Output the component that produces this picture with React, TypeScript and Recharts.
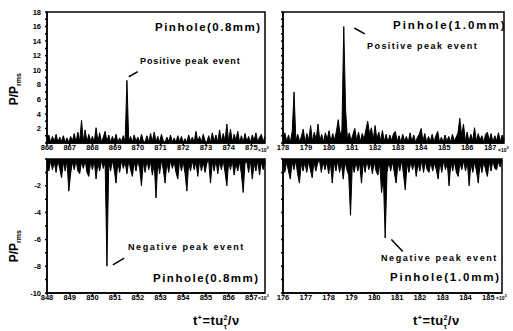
import { AreaChart, Area, XAxis, YAxis, ReferenceLine, ReferenceArea } from "recharts";

const STEP = 0.08;

// P/Prms, sampled every STEP in t+ (x10^3)
const topLeftT0 = 866;
const topLeftVals = [
  0.6, 1.1, 0.1, 0.9, 0.2, 1.2, 0.1, 0.8, 0.2, 1.0,
  0.1, 0.7, 0.1, 0.9, 0.3, 1.3, 0.1, 1.5, 0.2, 3.1,
  0.2, 1.8, 0.1, 1.2, 0.3, 0.9, 0.1, 2.1, 0.2, 1.4,
  0.1, 0.8, 1.6, 0.2, 1.1, 0.1, 0.9, 0.2, 1.2, 0.1,
  0.7, 0.2, 1.0, 0.1, 8.6, 0.2, 0.9, 0.1, 1.1, 0.2,
  0.8, 0.1, 1.2, 0.3, 0.1, 1.0, 0.1, 1.3, 0.2, 1.5,
  0.2, 0.9, 0.1, 1.2, 0.3, 0.1, 0.8, 0.2, 1.1, 0.1,
  0.7, 0.1, 1.0, 0.2, 0.9, 0.1, 0.6, 0.1, 1.1, 0.2,
  0.8, 0.1, 1.6, 0.2, 0.9, 0.1, 1.2, 0.3, 0.1, 1.0,
  0.1, 1.4, 0.2, 1.1, 0.1, 1.8, 0.2, 1.3, 0.3, 2.6,
  0.2, 1.9, 0.1, 1.2, 0.4, 1.6, 0.1, 1.0, 0.1, 1.3,
  0.2, 0.9, 0.1, 1.1, 0.3, 1.4, 0.1, 0.8, 1.2, 0.2, 0.9,
];

const topRightT0 = 178;
const topRightVals = [
  0.8, 1.4, 0.2, 1.1, 0.1, 1.6, 7.0, 0.3, 1.2, 0.2,
  0.9, 1.9, 0.1, 1.3, 0.4, 2.4, 0.2, 1.5, 0.4, 2.6,
  0.3, 1.2, 0.1, 1.4, 0.5, 1.7, 0.2, 1.3, 0.4, 1.6,
  3.2, 1.1, 1.8, 16.0, 4.5, 0.5, 1.4, 0.3, 1.2, 2.0,
  0.3, 1.5, 0.2, 1.3, 0.5, 1.8, 3.0, 1.2, 2.1, 0.4,
  2.4, 0.5, 1.5, 0.3, 1.7, 0.2, 1.2, 0.1, 1.1, 0.3,
  1.3, 1.6, 0.2, 1.0, 0.1, 1.2, 0.3, 0.9, 0.1, 1.4,
  0.2, 1.1, 0.1, 0.8, 1.2, 2.0, 0.3, 1.3, 0.1, 0.9,
  0.2, 1.2, 0.1, 1.0, 1.6, 0.1, 0.8, 0.1, 1.1, 0.2,
  0.9, 0.1, 1.2, 0.3, 0.8, 1.4, 3.4, 1.0, 2.6, 0.3,
  1.5, 0.2, 1.2, 0.3, 2.1, 0.2, 1.3, 0.4, 1.0, 0.1,
  1.2, 1.5, 0.3, 1.3, 0.1, 1.0, 0.3, 1.4, 0.2, 1.1, 0.4,
];

const botLeftT0 = 848;
const botLeftVals = [
  -0.5, -0.9, -0.1, -0.8, -0.2, -1.0, -0.1, -0.7, -1.4, -0.2,
  -0.9, -0.1, -2.4, -1.1, -0.2, -0.8, -0.1, -0.9, -1.1, -0.2,
  -0.7, -0.1, -1.0, -1.3, -0.2, -0.8, -0.1, -1.5, -0.3, -0.9,
  -0.1, -0.7, -0.2, -8.0, -0.2, -0.9, -0.1, -0.8, -1.8, -0.2,
  -1.0, -0.1, -0.7, -0.2, -1.1, -0.1, -0.8, -1.3, -0.2, -0.9,
  -0.1, -0.7, -2.0, -0.2, -1.0, -0.1, -0.8, -0.2, -1.2, -0.3,
  -2.9, -0.2, -1.1, -0.1, -0.8, -1.8, -0.2, -1.0, -0.1, -0.7,
  -0.2, -1.0, -1.5, -0.1, -0.9, -0.2, -1.1, -2.4, -0.3, -0.9,
  -0.1, -0.8, -0.2, -1.3, -0.1, -0.9, -0.2, -1.0, -0.3, -0.1,
  -1.8, -0.2, -0.9, -0.1, -1.1, -0.2, -0.8, -0.1, -1.0, -2.0,
  -0.2, -0.8, -0.1, -1.2, -0.3, -0.9, -0.2, -1.1, -2.5, -0.3,
  -0.2, -1.0, -0.1, -1.5, -0.3, -0.9, -0.1, -1.2, -0.2, -0.8, -0.2,
];

const botRightT0 = 176;
const botRightVals = [
  -0.6, -1.0, -0.2, -0.9, -1.5, -0.2, -0.8, -0.1, -1.1, -1.8,
  -0.3, -0.9, -0.2, -1.0, -0.2, -0.8, -1.4, -0.2, -0.9, -0.3,
  -0.1, -1.0, -0.2, -0.8, -0.2, -1.1, -0.3, -1.8, -0.2, -0.9,
  -0.1, -1.0, -0.3, -1.5, -0.2, -0.8, -1.2, -4.2, -0.3, -1.0,
  -0.2, -0.9, -0.3, -1.8, -0.2, -1.0, -0.1, -0.8, -0.3, -1.1,
  -0.2, -0.9, -1.2, -0.3, -2.5, -1.4, -5.9, -1.0, -0.2, -0.9,
  -0.2, -1.0, -1.8, -0.3, -0.9, -0.1, -1.1, -2.3, -0.3, -1.0,
  -0.2, -0.8, -0.2, -1.3, -0.3, -0.9, -0.1, -1.0, -0.2, -0.8,
  -1.0, -0.2, -0.9, -0.3, -0.8, -1.5, -0.2, -1.0, -0.1, -0.8,
  -0.3, -2.0, -0.2, -0.9, -0.2, -1.0, -1.3, -0.3, -0.8, -0.1,
  -0.9, -0.2, -2.0, -0.3, -1.0, -0.2, -0.9, -1.8, -0.3, -1.0,
  -0.2, -0.8, -1.3, -0.2, -0.9, -0.1, -0.7, -0.8, -0.2, -0.6, -0.1,
];

const topLeftTicks = [866, 867, 868, 869, 870, 871, 872, 873, 874, 875];
const topRightTicks = [178, 179, 180, 181, 182, 183, 184, 185, 186, 187];
const botLeftTicks = [848, 849, 850, 851, 852, 853, 854, 855, 856, 857];
const botRightTicks = [176, 177, 178, 179, 180, 181, 182, 183, 184, 185];
// every unit gets a tick, only even ones are labelled
const topYTicks = [0, 1, 2, 3, 4, 5, 6, 7, 8, 9, 10, 11, 12, 13, 14, 15, 16, 17, 18];
const botYTicks = [-10, -9, -8, -7, -6, -5, -4, -3, -2, -1, 0];

const FONT = "'Liberation Sans', Arial, sans-serif";
const tickStyle = { fontSize: 7.5, fontWeight: 700, fill: "#000", fontFamily: FONT };

type Seg = [{ x: number; y: number }, { x: number; y: number }];

interface PanelProps {
  vals: number[];
  t0: number;
  xTicks: number[];
  yDomain: [number, number];
  yTicks: number[];
  showYLabels: boolean;
  left: number;
  top: number;
  width: number;
  height: number;
  yWidth: number;
  mTop: number;
  mRight: number;
  pointer: Seg;
}

function Panel(p: PanelProps) {
  const data = p.vals.map((v, i) => ({ t: p.t0 + i * STEP, p: v }));
  const xMax = p.t0 + (p.vals.length - 1) * STEP;
  return (
    <div style={{ position: "absolute", left: p.left, top: p.top }}>
      <AreaChart
        width={p.width}
        height={p.height}
        data={data}
        margin={{ top: p.mTop, right: p.mRight, left: 0, bottom: 0 }}
      >
        <XAxis
          dataKey="t"
          type="number"
          domain={[p.t0, xMax]}
          ticks={p.xTicks}
          interval={0}
          height={12}
          tickSize={2}
          tickMargin={0}
          tick={tickStyle}
          stroke="#000"
          strokeWidth={1.5}
        />
        <YAxis
          type="number"
          domain={p.yDomain}
          ticks={p.yTicks}
          interval={0}
          width={p.yWidth}
          tickSize={2}
          tickMargin={4}
          tick={tickStyle}
          tickFormatter={(v: number) => (p.showYLabels && v !== 0 && v % 2 === 0 ? String(v) : "")}
          stroke="#000"
          strokeWidth={1.5}
        />
        <Area
          type="linear"
          dataKey="p"
          baseValue={0}
          stroke="#000"
          strokeWidth={1}
          fill="#000"
          fillOpacity={1}
          dot={false}
          activeDot={false}
          isAnimationActive={false}
        />
        <ReferenceArea
          x1={p.t0}
          x2={xMax}
          y1={p.yDomain[0]}
          y2={p.yDomain[1]}
          fill="none"
          stroke="#000"
          strokeWidth={1.5}
          ifOverflow="visible"
        />
        <ReferenceLine segment={p.pointer} stroke="#000" strokeWidth={1.5} />
      </AreaChart>
    </div>
  );
}

function Txt({
  x, y, size, ls = 0, children,
}: { x: number; y: number; size: number; ls?: number; children: React.ReactNode }) {
  return (
    <div
      style={{
        position: "absolute",
        left: x,
        top: y,
        fontFamily: FONT,
        fontWeight: 700,
        fontSize: size,
        letterSpacing: ls,
        lineHeight: 1,
        whiteSpace: "nowrap",
        color: "#000",
      }}
    >
      {children}
    </div>
  );
}

function YTitle({ cx, cy }: { cx: number; cy: number }) {
  return (
    <div
      style={{
        position: "absolute",
        left: cx - 30,
        top: cy - 6,
        width: 60,
        textAlign: "center",
        transform: "rotate(-90deg)",
        fontFamily: FONT,
        fontWeight: 700,
        fontSize: 12,
        lineHeight: 1,
        whiteSpace: "nowrap",
      }}
    >
      P/P<sub style={{ fontSize: 7 }}>rms</sub>
    </div>
  );
}

function XTitle({ x, y }: { x: number; y: number }) {
  return (
    <Txt x={x} y={y} size={13} ls={0.5}>
      t<sup style={{ fontSize: 7 }}>+</sup>=tu<sub style={{ fontSize: 7 }}>τ</sub>
      <sup style={{ fontSize: 7, marginLeft: -4 }}>2</sup>/ν
    </Txt>
  );
}

function Times({ x, y }: { x: number; y: number }) {
  return (
    <Txt x={x} y={y} size={5}>
      ×10<sup style={{ fontSize: 4 }}>3</sup>
    </Txt>
  );
}

export default function App() {
  return (
    <div style={{ position: "absolute", left: 0, top: 0, width: 513, height: 331, background: "#fff" }}>
      <Panel
        vals={topLeftVals} t0={topLeftT0} xTicks={topLeftTicks}
        yDomain={[0, 18]} yTicks={topYTicks} showYLabels
        left={0} top={0} width={270} height={155} yWidth={47} mTop={12} mRight={5}
        pointer={[{ x: 869.6, y: 9.1 }, { x: 870.0, y: 9.8 }]}
      />
      <Panel
        vals={topRightVals} t0={topRightT0} xTicks={topRightTicks}
        yDomain={[0, 18]} yTicks={topYTicks} showYLabels={false}
        left={265} top={0} width={245} height={155} yWidth={18} mTop={12} mRight={6}
        pointer={[{ x: 181.1, y: 15.8 }, { x: 181.55, y: 15.0 }]}
      />
      <Panel
        vals={botLeftVals} t0={botLeftT0} xTicks={botLeftTicks}
        yDomain={[-10, 0]} yTicks={botYTicks} showYLabels
        left={0} top={147} width={270} height={158} yWidth={47} mTop={12} mRight={5}
        pointer={[{ x: 850.9, y: -7.9 }, { x: 851.4, y: -7.4 }]}
      />
      <Panel
        vals={botRightVals} t0={botRightT0} xTicks={botRightTicks}
        yDomain={[-10, 0]} yTicks={botYTicks} showYLabels={false}
        left={265} top={147} width={245} height={158} yWidth={18} mTop={12} mRight={8}
        pointer={[{ x: 180.75, y: -6.0 }, { x: 181.25, y: -6.9 }]}
      />

      <Txt x={155} y={22} size={11.5} ls={1.5}>Pinhole(0.8mm)</Txt>
      <Txt x={140} y={57} size={9} ls={0.9}>Positive peak event</Txt>
      <Txt x={393} y={20} size={11.5} ls={2.0}>Pinhole(1.0mm)</Txt>
      <Txt x={367} y={42} size={9} ls={1.45}>Positive peak event</Txt>
      <Txt x={128} y={243} size={9} ls={1.6}>Negative peak event</Txt>
      <Txt x={153} y={273} size={11.5} ls={1.5}>Pinhole(0.8mm)</Txt>
      <Txt x={381} y={254} size={9} ls={1.6}>Negative peak event</Txt>
      <Txt x={390} y={272} size={11.5} ls={1.8}>Pinhole(1.0mm)</Txt>

      <Times x={258} y={146} />
      <Times x={498} y={146} />
      <Times x={258} y={294} />
      <Times x={496} y={294} />

      <YTitle cx={15} cy={88} />
      <YTitle cx={15} cy={245} />
      <XTitle x={193} y={314} />
      <XTitle x={413} y={314} />
    </div>
  );
}
